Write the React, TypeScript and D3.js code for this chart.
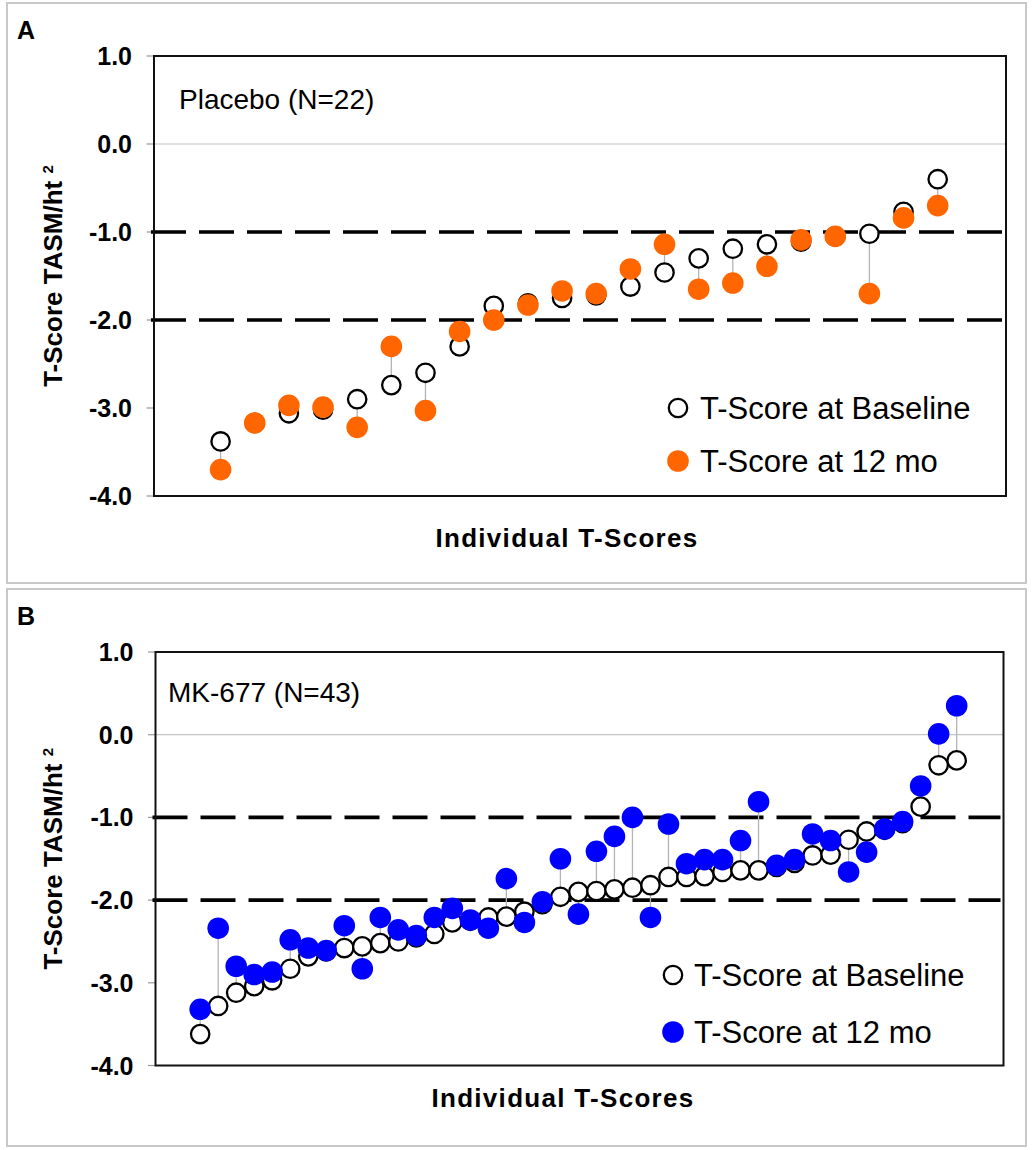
import * as d3 from 'd3';

// T-scores, subjects sorted by baseline value
const PLACEBO_BASELINE = [-3.38, -3.17, -3.06, -3.02, -2.9, -2.74, -2.6, -2.3, -1.84, -1.81, -1.75, -1.72, -1.62, -1.46, -1.3, -1.19, -1.14, -1.11, -1.05, -1.02, -0.77, -0.4];
const PLACEBO_12MO = [-3.7, -3.17, -2.97, -2.99, -3.22, -2.3, -3.03, -2.13, -2.0, -1.83, -1.67, -1.7, -1.42, -1.14, -1.65, -1.58, -1.39, -1.09, -1.05, -1.7, -0.84, -0.7];

const MK677_BASELINE = [-3.62, -3.28, -3.12, -3.04, -2.97, -2.83, -2.68, -2.62, -2.58, -2.56, -2.52, -2.5, -2.45, -2.41, -2.27, -2.25, -2.21, -2.2, -2.14, -2.05, -1.96, -1.9, -1.89, -1.87, -1.85, -1.82, -1.72, -1.72, -1.71, -1.66, -1.64, -1.64, -1.6, -1.55, -1.46, -1.45, -1.27, -1.17, -1.15, -1.07, -0.87, -0.37, -0.31];
const MK677_12MO = [-3.32, -2.34, -2.8, -2.9, -2.87, -2.48, -2.58, -2.61, -2.31, -2.83, -2.21, -2.36, -2.43, -2.21, -2.1, -2.24, -2.34, -1.74, -2.27, -2.02, -1.5, -2.17, -1.41, -1.23, -1.0, -2.21, -1.08, -1.56, -1.51, -1.51, -1.28, -0.81, -1.58, -1.51, -1.2, -1.28, -1.66, -1.42, -1.14, -1.05, -0.62, 0.01, 0.35];

const Y_TICKS = [1, 0, -1, -2, -3, -4];
const CUTOFFS = [-1, -2];
const LEGEND_LABELS = ['T-Score at Baseline', 'T-Score at 12 mo'];

const FONT = '"Liberation Sans", Arial, Helvetica, sans-serif';

const PANELS = [
  {
    letter: 'A',
    group: 'Placebo (N=22)',
    baseline: PLACEBO_BASELINE,
    followup: PLACEBO_12MO,
    color: '#FF6600',
    frame: { x: 7, y: 3, w: 1019, h: 580 },
    plot: { left: 154, top: 56, right: 1006, bottom: 496 },
    xDomain: [-1.95, 23],
    groupPos: [179, 109],
    legend: { mx: 678, tx: 700, rows: [408, 461] },
    xTitle: [567, 547],
  },
  {
    letter: 'B',
    group: 'MK-677 (N=43)',
    baseline: MK677_BASELINE,
    followup: MK677_12MO,
    color: '#0000FF',
    frame: { x: 7, y: 589, w: 1019, h: 557 },
    plot: { left: 155.5, top: 652, right: 1003.5, bottom: 1065.5 },
    xDomain: [-2.48, 44.6],
    groupPos: [168, 702],
    legend: { mx: 673, tx: 694, rows: [975, 1032] },
    xTitle: [563, 1107],
  },
];

function Panel({ cfg }) {
  const { plot, frame } = cfg;
  const x = d3.scaleLinear().domain(cfg.xDomain).range([plot.left, plot.right]);
  const y = d3.scaleLinear().domain([-4, 1]).range([plot.bottom, plot.top]);
  const midY = (plot.top + plot.bottom) / 2;

  return (
    <g>
      <rect x={frame.x} y={frame.y} width={frame.w} height={frame.h} fill="#fff" stroke="#c8c8c8" strokeWidth={2} />
      <text x={frame.x + 10} y={frame.y + 36} fontFamily={FONT} fontWeight="bold" fontSize={25}>{cfg.letter}</text>

      {/* zero gridline */}
      <line x1={plot.left} x2={plot.right} y1={y(0)} y2={y(0)} stroke="#c4c4c4" strokeWidth={1.2} />

      {/* y ticks + labels */}
      {Y_TICKS.map(t => (
        <g key={t}>
          <line x1={plot.left - 7.5} x2={plot.left} y1={y(t)} y2={y(t)} stroke="#999" strokeWidth={1.2} />
          <text x={plot.left - 22} y={y(t)} dy="0.36em" textAnchor="end" fontFamily={FONT} fontWeight="bold" fontSize={25}>
            {t.toFixed(1)}
          </text>
        </g>
      ))}

      {/* cutoff lines */}
      {CUTOFFS.map(c => (
        <line key={c} x1={plot.left - 3} x2={plot.right - 3} y1={y(c)} y2={y(c)}
          stroke="#000" strokeWidth={3.6} strokeDasharray="35,13" />
      ))}

      <rect x={plot.left} y={plot.top} width={plot.right - plot.left} height={plot.bottom - plot.top}
        fill="none" stroke="#111" strokeWidth={2} />

      {/* change connectors */}
      {cfg.baseline.map((b, i) => (
        <line key={'c' + i} x1={x(i)} x2={x(i)} y1={y(b)} y2={y(cfg.followup[i])} stroke="#b4b4b4" strokeWidth={1.3} />
      ))}
      {cfg.baseline.map((b, i) => (
        <circle key={'b' + i} cx={x(i)} cy={y(b)} r={9.2} fill="#fff" stroke="#000" strokeWidth={2.3} />
      ))}
      {cfg.followup.map((v, i) => (
        <circle key={'f' + i} cx={x(i)} cy={y(v)} r={10.8} fill={cfg.color} />
      ))}

      <text x={cfg.groupPos[0]} y={cfg.groupPos[1]} fontFamily={FONT} fontSize={28}>{cfg.group}</text>

      {/* legend */}
      <circle cx={cfg.legend.mx} cy={cfg.legend.rows[0]} r={9.2} fill="#fff" stroke="#000" strokeWidth={2.3} />
      <circle cx={cfg.legend.mx} cy={cfg.legend.rows[1]} r={10.8} fill={cfg.color} />
      {LEGEND_LABELS.map((l, i) => (
        <text key={l} x={cfg.legend.tx} y={cfg.legend.rows[i]} dy="0.36em" fontFamily={FONT} fontSize={31}>{l}</text>
      ))}

      {/* axis titles */}
      <text x={cfg.xTitle[0]} y={cfg.xTitle[1]} textAnchor="middle" fontFamily={FONT} fontWeight="bold" fontSize={26}
        letterSpacing="1.3">Individual T-Scores</text>
      <text transform={`translate(62,${midY}) rotate(-90)`} textAnchor="middle" fontFamily={FONT} fontWeight="bold" fontSize={26}>
        T-Score TASM/ht <tspan fontSize={15} dy={-9}>2</tspan>
      </text>
    </g>
  );
}

export default function App() {
  return (
    <svg width={1033} height={1150} style={{ position: 'absolute', left: 0, top: 0, background: '#fff' }}>
      {PANELS.map(p => <Panel key={p.letter} cfg={p} />)}
    </svg>
  );
}
